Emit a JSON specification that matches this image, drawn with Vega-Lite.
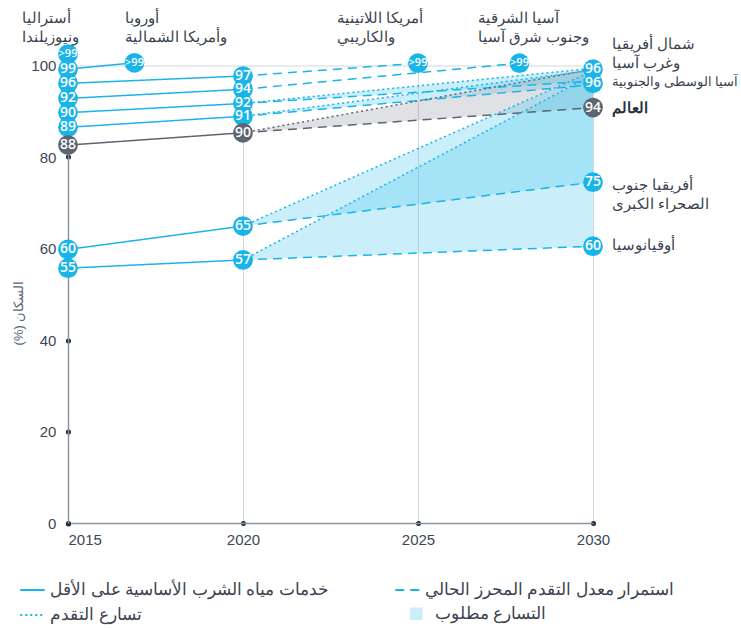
{
  "$schema": "https://vega.github.io/schema/vega-lite/v6.json",
  "width": 525,
  "height": 457.5,
  "autosize": {"type": "none"},
  "padding": {"top": 65.5, "left": 68, "right": 148, "bottom": 105},
  "background": "white",
  "config": {
    "view": {"stroke": null},
    "font": "Liberation Sans",
    "axis": {"labelFont": "Liberation Sans", "labelFontSize": 15, "labelColor": "#3d4758", "domainColor": "#8a95a3", "domainWidth": 1.5, "tickColor": "#1f2d3d", "tickWidth": 5, "tickSize": 0.1, "tickCap": "round", "gridColor": "#d3d6da", "gridWidth": 1},
    "legend": {"labelFontSize": 16.5, "labelColor": "#3c4350", "labelLimit": 400, "title": null}
  },
  "datasets": {
    "bands": [
      {"region": "NAWA", "year": 2020, "current": 91.7, "accelerated": 91.7},
      {"region": "NAWA", "year": 2030, "current": 96.6, "accelerated": 99.4},
      {"region": "CSA", "year": 2020, "current": 88.9, "accelerated": 88.9},
      {"region": "CSA", "year": 2030, "current": 95.8, "accelerated": 99.0},
      {"region": "WLD", "year": 2020, "current": 85.3, "accelerated": 85.3},
      {"region": "WLD", "year": 2030, "current": 90.8, "accelerated": 99.2},
      {"region": "SSA", "year": 2020, "current": 64.9, "accelerated": 64.9},
      {"region": "SSA", "year": 2030, "current": 74.5, "accelerated": 98.8},
      {"region": "OCE", "year": 2020, "current": 57.5, "accelerated": 57.5},
      {"region": "OCE", "year": 2030, "current": 60.5, "accelerated": 98.0}
    ],
    "lines": [
      {"region": "EUR", "style": "solid", "year": 2015, "value": 99.2},
      {"region": "EUR", "style": "solid", "year": 2016.9, "value": 100.6},
      {"region": "LAC", "style": "solid", "year": 2015, "value": 96.1},
      {"region": "LAC", "style": "solid", "year": 2020, "value": 97.7},
      {"region": "EAS", "style": "solid", "year": 2015, "value": 92.8},
      {"region": "EAS", "style": "solid", "year": 2020, "value": 94.8},
      {"region": "NAWA", "style": "solid", "year": 2015, "value": 89.7},
      {"region": "NAWA", "style": "solid", "year": 2020, "value": 91.7},
      {"region": "CSA", "style": "solid", "year": 2015, "value": 86.5},
      {"region": "CSA", "style": "solid", "year": 2020, "value": 88.9},
      {"region": "WLD", "style": "solid", "year": 2015, "value": 82.6},
      {"region": "WLD", "style": "solid", "year": 2020, "value": 85.3},
      {"region": "SSA", "style": "solid", "year": 2015, "value": 59.8},
      {"region": "SSA", "style": "solid", "year": 2020, "value": 64.9},
      {"region": "OCE", "style": "solid", "year": 2015, "value": 55.7},
      {"region": "OCE", "style": "solid", "year": 2020, "value": 57.5},
      {"region": "LAC", "style": "dashed", "year": 2020, "value": 97.7},
      {"region": "LAC", "style": "dashed", "year": 2025, "value": 100.5},
      {"region": "EAS", "style": "dashed", "year": 2020, "value": 94.8},
      {"region": "EAS", "style": "dashed", "year": 2027.9, "value": 100.5},
      {"region": "NAWA", "style": "dashed", "year": 2020, "value": 91.7},
      {"region": "NAWA", "style": "dashed", "year": 2030, "value": 96.6},
      {"region": "CSA", "style": "dashed", "year": 2020, "value": 88.9},
      {"region": "CSA", "style": "dashed", "year": 2030, "value": 95.8},
      {"region": "WLD", "style": "dashed", "year": 2020, "value": 85.3},
      {"region": "WLD", "style": "dashed", "year": 2030, "value": 90.8},
      {"region": "SSA", "style": "dashed", "year": 2020, "value": 64.9},
      {"region": "SSA", "style": "dashed", "year": 2030, "value": 74.5},
      {"region": "OCE", "style": "dashed", "year": 2020, "value": 57.5},
      {"region": "OCE", "style": "dashed", "year": 2030, "value": 60.5},
      {"region": "NAWA", "style": "dotted", "year": 2020, "value": 91.7},
      {"region": "NAWA", "style": "dotted", "year": 2030, "value": 99.4},
      {"region": "CSA", "style": "dotted", "year": 2020, "value": 88.9},
      {"region": "CSA", "style": "dotted", "year": 2030, "value": 99.0},
      {"region": "WLD", "style": "dotted", "year": 2020, "value": 85.3},
      {"region": "WLD", "style": "dotted", "year": 2030, "value": 99.2},
      {"region": "SSA", "style": "dotted", "year": 2020, "value": 64.9},
      {"region": "SSA", "style": "dotted", "year": 2030, "value": 98.8},
      {"region": "OCE", "style": "dotted", "year": 2020, "value": 57.5},
      {"region": "OCE", "style": "dotted", "year": 2030, "value": 98.0}
    ],
    "circles": [
      {"region": "AUS", "year": 2015, "value": 102.5, "label": ">99"},
      {"region": "EUR", "year": 2015, "value": 99.2, "label": "99"},
      {"region": "LAC", "year": 2015, "value": 96.1, "label": "96"},
      {"region": "EAS", "year": 2015, "value": 92.8, "label": "92"},
      {"region": "NAWA", "year": 2015, "value": 89.7, "label": "90"},
      {"region": "CSA", "year": 2015, "value": 86.5, "label": "89"},
      {"region": "WLD", "year": 2015, "value": 82.6, "label": "88"},
      {"region": "SSA", "year": 2015, "value": 59.8, "label": "60"},
      {"region": "OCE", "year": 2015, "value": 55.7, "label": "55"},
      {"region": "EUR", "year": 2016.9, "value": 100.6, "label": ">99"},
      {"region": "LAC", "year": 2020, "value": 97.7, "label": "97"},
      {"region": "EAS", "year": 2020, "value": 94.8, "label": "94"},
      {"region": "NAWA", "year": 2020, "value": 91.7, "label": "92"},
      {"region": "CSA", "year": 2020, "value": 88.9, "label": "91"},
      {"region": "WLD", "year": 2020, "value": 85.3, "label": "90"},
      {"region": "SSA", "year": 2020, "value": 64.9, "label": "65"},
      {"region": "OCE", "year": 2020, "value": 57.5, "label": "57"},
      {"region": "LAC", "year": 2025, "value": 100.5, "label": ">99"},
      {"region": "EAS", "year": 2027.9, "value": 100.5, "label": ">99"},
      {"region": "NAWA", "year": 2030, "value": 99.2, "label": "96"},
      {"region": "CSA", "year": 2030, "value": 96.1, "label": "96"},
      {"region": "WLD", "year": 2030, "value": 90.8, "label": "94"},
      {"region": "SSA", "year": 2030, "value": 74.5, "label": "75"},
      {"region": "OCE", "year": 2030, "value": 60.5, "label": "60"}
    ],
    "names": [
      {"region": "AUS", "label": "أستراليا\nونيوزيلندا", "year": 2013.69, "value": 110.4},
      {"region": "EUR", "label": "أوروبا\nوأمريكا الشمالية", "year": 2016.63, "value": 110.4},
      {"region": "LAC", "label": "أمريكا اللاتينية\nوالكاريبي", "year": 2022.69, "value": 110.4},
      {"region": "EAS", "label": "آسيا الشرقية\nوجنوب شرق آسيا", "year": 2026.71, "value": 110.4},
      {"region": "NAWA", "label": "شمال أفريقيا\nوغرب آسيا", "year": 2030.54, "value": 104.6},
      {"region": "CSA", "label": "آسيا الوسطى والجنوبية", "year": 2030.54, "value": 96.4},
      {"region": "WLD", "label": "العالم", "year": 2030.54, "value": 90.7},
      {"region": "SSA", "label": "أفريقيا جنوب\nالصحراء الكبرى", "year": 2030.54, "value": 73.9},
      {"region": "OCE", "label": "أوقيانوسيا", "year": 2030.54, "value": 60.8}
    ]
  },
  "layer": [
    {
      "data": {"name": "bands"},
      "mark": {"type": "area", "opacity": 0.3},
      "encoding": {
        "x": {"field": "year", "type": "quantitative", "scale": {"domain": [2015, 2030], "nice": false, "zero": false},
          "axis": {"title": null, "values": [2015, 2020, 2025, 2030], "format": "d", "labelPadding": 9, "grid": true,
            "labelAlign": {"condition": {"test": "datum.value === 2015", "value": "left"}, "value": "center"},
            "labelDx": {"condition": {"test": "datum.value === 2015", "value": -4}, "value": 0}}},
        "y": {"field": "accelerated", "type": "quantitative", "scale": {"domain": [0, 100], "nice": false},
          "axis": {"title": "(%) السكان", "values": [0, 20, 40, 60, 80, 100], "labelPadding": 12, "grid": true,
            "gridOpacity": {"condition": {"test": "datum.value === 100", "value": 1}, "value": 0},
            "titleFontSize": 13, "titleFontWeight": "normal", "titleColor": "#5b6676", "titleX": -50, "titleY": 247, "titleAngle": -90, "titleAlign": "center", "titleBaseline": "middle"}},
        "y2": {"field": "current"},
        "fill": {"field": "region", "type": "nominal",
          "scale": {"domain": ["NAWA", "CSA", "WLD", "SSA", "OCE"], "range": ["#4fc9ef", "#4fc9ef", "#989ba5", "#4fc9ef", "#4fc9ef"]},
          "legend": {"values": ["SSA"], "labelExpr": "'التسارع مطلوب'", "orient": "none", "legendX": 340, "legendY": 540, "symbolType": "square", "symbolSize": 160, "symbolOpacity": 0.3, "symbolStrokeWidth": 0, "labelOffset": 10}}
      }
    },
    {
      "data": {"name": "lines"},
      "mark": {"type": "line", "strokeWidth": 1.5},
      "encoding": {
        "x": {"field": "year", "type": "quantitative"},
        "y": {"field": "value", "type": "quantitative"},
        "color": {"field": "region", "type": "nominal",
          "scale": {"domain": ["AUS", "EUR", "LAC", "EAS", "NAWA", "CSA", "WLD", "SSA", "OCE"], "range": ["#19b4e9", "#19b4e9", "#19b4e9", "#19b4e9", "#19b4e9", "#19b4e9", "#5d6472", "#19b4e9", "#19b4e9"]},
          "legend": null},
        "strokeDash": {"field": "style", "type": "nominal",
          "scale": {"domain": ["solid", "dotted", "dashed"], "range": [[1, 0], [2, 3], [9, 6]]},
          "legend": {"orient": "none", "legendX": -49, "legendY": 511, "columns": 2, "columnPadding": 62, "rowPadding": 3, "symbolType": "stroke", "symbolSize": 600, "symbolStrokeWidth": 1.8, "symbolStrokeColor": "#19b4e9",
            "labelExpr": "datum.label === 'solid' ? 'خدمات مياه الشرب الأساسية على الأقل' : datum.label === 'dashed' ? 'استمرار معدل التقدم المحرز الحالي' : 'تسارع التقدم'"}}
      }
    },
    {
      "data": {"name": "circles"},
      "mark": {"type": "point", "filled": true, "opacity": 1, "size": 390, "shape": "circle"},
      "encoding": {
        "x": {"field": "year", "type": "quantitative"},
        "y": {"field": "value", "type": "quantitative"},
        "color": {"field": "region", "type": "nominal", "legend": null}
      }
    },
    {
      "data": {"name": "circles"},
      "mark": {"type": "text", "color": "white", "font": "Open Sans", "fontWeight": 600, "baseline": "middle", "align": "center"},
      "encoding": {
        "x": {"field": "year", "type": "quantitative"},
        "y": {"field": "value", "type": "quantitative"},
        "text": {"field": "label"},
        "size": {"condition": {"test": "datum.label === '>99'", "value": 11}, "value": 14}
      }
    },
    {
      "data": {"name": "names"},
      "transform": [{"filter": "datum.region !== 'WLD'"}],
      "mark": {"type": "text", "align": "left", "baseline": "middle", "lineBreak": "\n", "lineHeight": 19, "color": "#3c4350"},
      "encoding": {
        "x": {"field": "year", "type": "quantitative"},
        "y": {"field": "value", "type": "quantitative"},
        "text": {"field": "label"},
        "size": {"condition": {"test": "datum.region === 'CSA'", "value": 13}, "value": 15}
      }
    },
    {
      "data": {"name": "names"},
      "transform": [{"filter": "datum.region === 'WLD'"}],
      "mark": {"type": "text", "align": "left", "baseline": "middle", "fontSize": 15, "fontWeight": "bold", "color": "#2a3140"},
      "encoding": {
        "x": {"field": "year", "type": "quantitative"},
        "y": {"field": "value", "type": "quantitative"},
        "text": {"field": "label"}
      }
    }
  ]
}
